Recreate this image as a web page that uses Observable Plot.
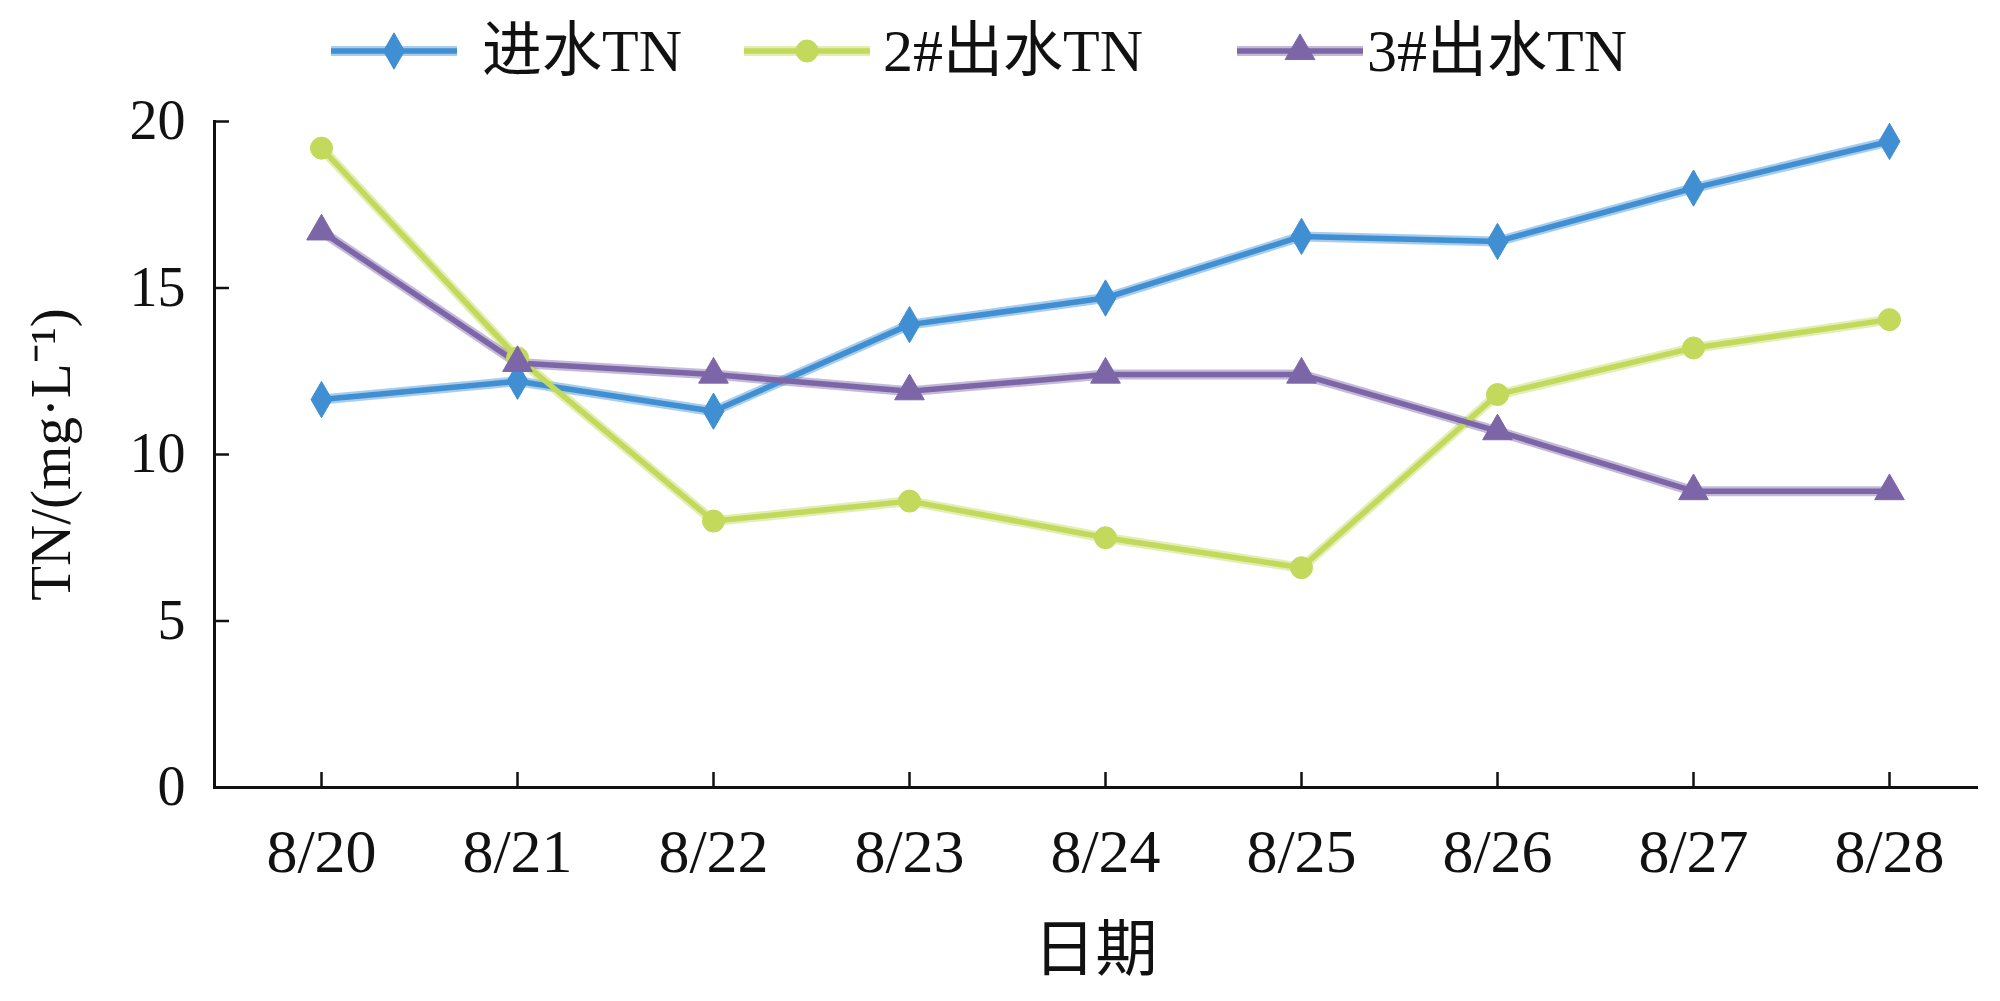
<!DOCTYPE html>
<html>
<head>
<meta charset="utf-8">
<script src="https://cdn.jsdelivr.net/npm/d3@7"></script>
<script src="https://cdn.jsdelivr.net/npm/@observablehq/plot@0.6"></script>
<style>
  html, body { margin: 0; padding: 0; background: #fff; }
  #wrap { position: relative; width: 2000px; height: 1001px; }
  #legend { position: absolute; top: 16px; left: 0; width: 2000px; height: 70px;
            font-family: "Liberation Serif", "Noto Sans CJK SC", serif; font-size: 60px; color: #111; }
  .sw { position: absolute; top: 0; }
  .lbl { position: absolute; top: 0; height: 70px; line-height: 70px; white-space: nowrap; }
</style>
</head>
<body>
<div id="wrap">
  <div id="legend"></div>
  <div id="chart"></div>
</div>
<script>
const dates = ["8/20","8/21","8/22","8/23","8/24","8/25","8/26","8/27","8/28"];
const seriesNames = ["进水TN","2#出水TN","3#出水TN"];
const inflow = [11.65, 12.2, 11.3, 13.9, 14.7, 16.55, 16.4, 18.0, 19.4];
const out2 = [19.2, 12.9, 8.0, 8.6, 7.5, 6.6, 11.8, 13.2, 14.05];
const out3 = [16.7, 12.75, 12.4, 11.9, 12.4, 12.4, 10.7, 8.9, 8.9];
const yTicks = [0, 5, 10, 15, 20];
const colors = ["#3f8fd2", "#c2d95c", "#7c66a8"];
const symbols = ["diamond", "circle", "triangle"];

const rows = [];
[inflow, out2, out3].forEach((vals, s) => {
  vals.forEach((v, i) => rows.push({date: dates[i], value: v, series: seriesNames[s]}));
});

const serif = "'Liberation Serif', 'Noto Sans CJK SC', serif";

const chart = Plot.plot({
  width: 2000,
  height: 1001,
  marginTop: 121,
  marginBottom: 214,
  marginLeft: 214,
  marginRight: 24,
  style: {fontFamily: serif, background: "transparent", color: "#111"},
  x: {type: "point", domain: dates, padding: 0.473, align: 0.553},
  y: {domain: [0, 20]},
  color: {domain: seriesNames, range: colors},
  symbol: {domain: seriesNames, range: symbols},
  marks: [
    Plot.axisY({ticks: yTicks, tickSize: -15, tickPadding: 44, fontSize: 56, label: null, stroke: "#111", strokeWidth: 2.5}),
    Plot.axisX({tickSize: -15, tickPadding: 55, fontSize: 62, label: null, stroke: "#111", strokeWidth: 2.5}),
    Plot.frame({anchor: "left", stroke: "#111", strokeWidth: 3}),
    Plot.frame({anchor: "bottom", stroke: "#111", strokeWidth: 3}),
    Plot.line(rows, {x: "date", y: "value", z: "series", stroke: "series", strokeWidth: 10, strokeOpacity: 0.45}),
    Plot.line(rows, {x: "date", y: "value", z: "series", stroke: "series", strokeWidth: 5.5}),
    Plot.dot(rows, {x: "date", y: "value", symbol: "series", fill: "series", r: 11, stroke: "series", strokeWidth: 1}),
    Plot.text(["日期"], {frameAnchor: "bottom", dy: 183, fontSize: 62, fill: "#111", fontFamily: serif}),
    Plot.text(["TN/(mg·L⁻¹)"], {frameAnchor: "left", dx: -163, rotate: -90, textAnchor: "middle", fontSize: 57, fill: "#111", fontFamily: serif})
  ]
});
document.getElementById("chart").appendChild(chart);

// legend
const legend = document.getElementById("legend");
const swatchX = [329, 742, 1235];
const labelX = [482, 883, 1367];
seriesNames.forEach((name, i) => {
  const sym = d3.symbol(d3["symbol" + symbols[i][0].toUpperCase() + symbols[i].slice(1)], Math.PI * 11 * 11)();
  const sw = document.createElement("div");
  sw.className = "sw";
  sw.style.left = swatchX[i] + "px";
  sw.innerHTML = `<svg width="130" height="70" viewBox="0 0 130 70">
      <line x1="2" x2="128" y1="35" y2="35" stroke="${colors[i]}" stroke-width="10" stroke-opacity="0.45"/>
      <line x1="2" x2="128" y1="35" y2="35" stroke="${colors[i]}" stroke-width="5.5"/>
      <path transform="translate(65,35)" d="${sym}" fill="${colors[i]}" stroke="${colors[i]}"/>
    </svg>`;
  legend.appendChild(sw);
  const lb = document.createElement("div");
  lb.className = "lbl";
  lb.style.left = labelX[i] + "px";
  lb.textContent = name;
  legend.appendChild(lb);
});
</script>
</body>
</html>
